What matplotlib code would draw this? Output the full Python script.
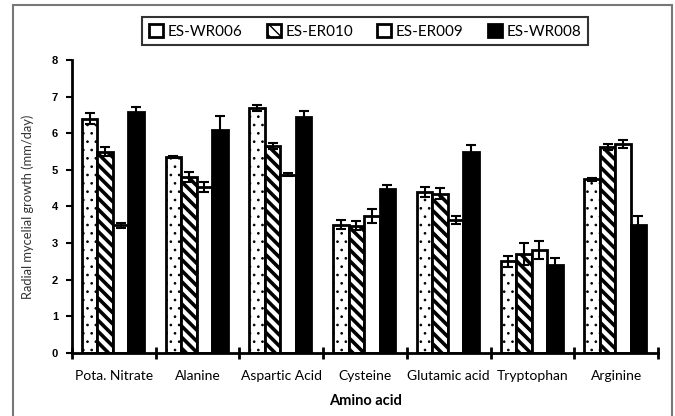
import numpy as np
import matplotlib
matplotlib.use("Agg")
import matplotlib.pyplot as plt
from matplotlib.patches import Rectangle

# Radial mycelial growth of four isolates on different amino acids
amino_acids = ["Pota. Nitrate", "Alanine", "Aspartic Acid", "Cysteine",
               "Glutamic acid", "Tryptophan", "Arginine"]
isolates = ["ES-WR006", "ES-ER010", "ES-ER009", "ES-WR008"]

wr006 = [6.40, 5.36, 6.68, 3.50, 4.40, 2.51, 4.74]
er010 = [5.49, 4.81, 5.66, 3.48, 4.35, 2.70, 5.62]
er009 = [3.49, 4.53, 4.86, 3.74, 3.63, 2.81, 5.70]
wr008 = [6.59, 6.08, 6.44, 4.49, 5.49, 2.41, 3.50]

wr006_err = [0.14, 0.03, 0.08, 0.12, 0.14, 0.15, 0.05]
er010_err = [0.12, 0.14, 0.08, 0.12, 0.15, 0.30, 0.08]
er009_err = [0.07, 0.14, 0.04, 0.20, 0.12, 0.25, 0.11]
wr008_err = [0.12, 0.40, 0.17, 0.10, 0.19, 0.17, 0.25]

series = [wr006, er010, er009, wr008]
errors = [wr006_err, er010_err, er009_err, wr008_err]
fills = ["white", "white", "white", "black"]
hatches = ["..", "\\\\\\", None, None]
hatch_lw = [0.7, 2.6, 1.0, 1.0]

plt.rcParams["font.family"] = ["Lato", "DejaVu Sans"]

fig = plt.figure(figsize=(6.75, 4.16), dpi=100)
ax = fig.add_axes([0.1067, 0.1514, 0.8683, 0.7046])

x = np.arange(len(amino_acids))
width = 0.185
handles = []
for i, (vals, errs) in enumerate(zip(series, errors)):
    pos = x + (i - 1.5) * width - 0.012
    with plt.rc_context({"hatch.linewidth": hatch_lw[i]}):
        bars = ax.bar(pos, vals, width, color=fills[i], edgecolor="black",
                      linewidth=2.0, hatch=hatches[i], zorder=2,
                      label=isolates[i])
    ax.errorbar(pos, vals, yerr=errs, fmt="none", ecolor="black",
                elinewidth=1.5, capsize=3.5, capthick=1.5, zorder=3)
    handles.append(bars)

ax.set_xlim(-0.5, len(amino_acids) - 0.5)
ax.set_ylim(0, 8)
ax.set_yticks(range(0, 9))
ax.set_yticklabels([str(v) for v in range(0, 9)], fontweight="bold",
                   fontsize=8, family=["Liberation Sans"])
ax.set_xticks(x)
ax.set_xticklabels(amino_acids, fontsize=10)
ax.set_xticks(np.arange(-0.5, len(amino_acids)), minor=True)
ax.tick_params(axis="x", which="major", length=0, pad=12)
ax.tick_params(axis="x", which="minor", direction="inout", length=9,
               width=2)
ax.tick_params(axis="y", direction="out", length=4, width=1.5, pad=6)

for side in ["top", "right"]:
    ax.spines[side].set_visible(False)
for side in ["left", "bottom"]:
    ax.spines[side].set_linewidth(2)

ax.set_xlabel("Amino acid", fontsize=10.5, fontweight="bold", labelpad=9)
ax.set_ylabel("Radial mycelial growth (mm/day)", fontsize=9.3,
              color="#333333", labelpad=13)

leg = fig.legend(handles=handles, labels=isolates, loc="center",
                 bbox_to_anchor=(0.541, 0.925), ncol=4, fontsize=11,
                 frameon=True, fancybox=False, handlelength=0.9,
                 handleheight=0.9, handletextpad=0.3, columnspacing=1.6,
                 borderpad=0.45)
leg.get_frame().set_edgecolor("black")
leg.get_frame().set_linewidth(1.5)
leg.get_patches()[0].set_hatch(None)

# outer border of the figure panel
fig.patches.append(Rectangle((13 / 675, -0.01), 659 / 675, 1 - 5 / 416 + 0.01,
                             transform=fig.transFigure, fill=False,
                             edgecolor="#777777", linewidth=1.5))

fig.savefig("out.png", dpi=100)
